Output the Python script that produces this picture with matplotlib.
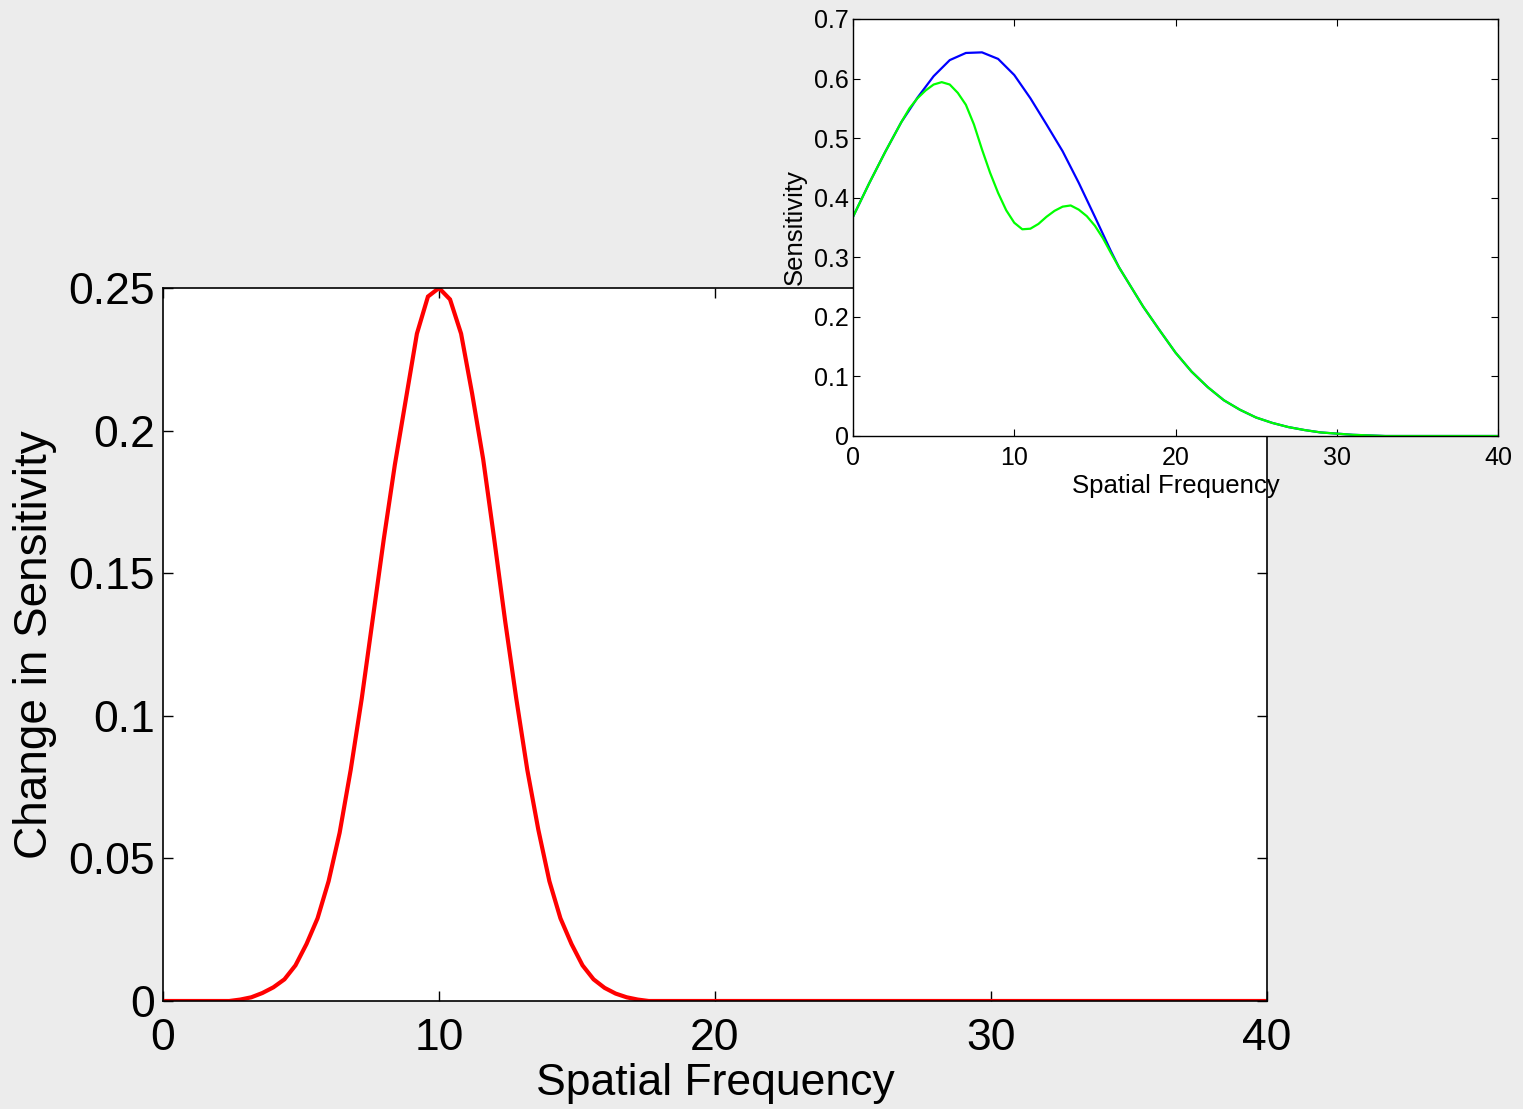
import matplotlib
matplotlib.use("Agg")
import matplotlib.pyplot as plt
from matplotlib.ticker import FormatStrFormatter

plt.rcParams['font.family'] = ['Liberation Sans', 'DejaVu Sans']

# Main chart: change in sensitivity
red_freq = [0, 2.4, 2.8, 3.2, 3.6, 4.0, 4.4, 4.8, 5.2, 5.6, 6.0, 6.4, 6.8, 7.2, 7.6,
            8.0, 8.4, 8.8, 9.2, 9.6, 10.0, 10.4, 10.8, 11.2, 11.6, 12.0, 12.4, 12.8,
            13.2, 13.6, 14.0, 14.4, 14.8, 15.2, 15.6, 16.0, 16.4, 16.8, 17.2, 17.6, 40]
red_change = [0, 0, 0.0005, 0.0013, 0.0028, 0.0048, 0.0076, 0.0125, 0.020, 0.029,
              0.042, 0.059, 0.081, 0.106, 0.134, 0.162, 0.188, 0.211, 0.234, 0.247,
              0.250, 0.246, 0.234, 0.213, 0.190, 0.162, 0.133, 0.106, 0.081, 0.060,
              0.042, 0.029, 0.020, 0.0125, 0.0076, 0.0046, 0.0026, 0.0013, 0.0005, 0, 0]

# Inset: sensitivity curves
blue_freq = [0, 1, 2, 3, 4, 5, 6, 7, 8, 9, 10, 11, 12, 13, 14, 15, 16, 16.5, 17, 18, 19,
             20, 21, 22, 23, 24, 25, 26, 27, 28, 29, 30, 31, 32, 33, 40]
blue_sens = [0.368, 0.424, 0.477, 0.527, 0.568, 0.604, 0.631, 0.643, 0.644, 0.633,
             0.606, 0.567, 0.523, 0.478, 0.425, 0.368, 0.310, 0.283, 0.261, 0.217,
             0.178, 0.140, 0.108, 0.082, 0.060, 0.044, 0.031, 0.022, 0.015, 0.010,
             0.006, 0.004, 0.002, 0.001, 0.0, 0.0]
green_freq = [0, 1, 2, 3, 3.5, 4, 4.5, 5, 5.5, 6, 6.5, 7, 7.5, 8, 8.5, 9, 9.5, 10, 10.5,
              11, 11.5, 12, 12.5, 13, 13.5, 14, 14.5, 15, 15.5, 16, 16.5, 17, 18, 19,
              20, 21, 22, 23, 24, 25, 26, 27, 28, 29, 30, 31, 32, 33, 40]
green_sens = [0.368, 0.424, 0.477, 0.527, 0.550, 0.567, 0.580, 0.590, 0.594, 0.590,
              0.576, 0.556, 0.523, 0.481, 0.442, 0.408, 0.379, 0.358, 0.347, 0.348,
              0.356, 0.368, 0.378, 0.385, 0.387, 0.380, 0.369, 0.353, 0.332, 0.307,
              0.283, 0.261, 0.217, 0.178, 0.140, 0.108, 0.082, 0.060, 0.044, 0.031,
              0.022, 0.015, 0.010, 0.006, 0.004, 0.002, 0.001, 0.0, 0.0]

main_xticks = [0, 10, 20, 30, 40]
main_yticks = [0, 0.05, 0.1, 0.15, 0.2, 0.25]
inset_xticks = [0, 10, 20, 30, 40]
inset_yticks = [0, 0.1, 0.2, 0.3, 0.4, 0.5, 0.6, 0.7]

W, H = 1523, 1109
fig = plt.figure(figsize=(W / 100, H / 100), dpi=100)
fig.patch.set_facecolor('#ececec')

def frac(l, t, r, b):
    return [l / W, 1 - b / H, (r - l) / W, (b - t) / H]

ax = fig.add_axes(frac(163, 288, 1267, 1001))
ax.set_facecolor('white')
ax.plot(red_freq, red_change, color='#ff0000', lw=3, solid_joinstyle='miter')
ax.set_xlim(0, 40)
ax.set_ylim(0, 0.25)
ax.set_xticks(main_xticks)
ax.set_yticks(main_yticks)
ax.yaxis.set_major_formatter(FormatStrFormatter('%g'))
ax.tick_params(direction='in', length=7, width=1, top=True, right=True,
               labelsize=32, colors='black')
ax.tick_params(axis='x', pad=12)
ax.tick_params(axis='y', pad=6)
ax.set_xlabel('Spatial Frequency', fontsize=32, labelpad=3)
ax.set_ylabel('Change in Sensitivity', fontsize=33, labelpad=8)
for s in ax.spines.values():
    s.set_linewidth(1.2)
    s.set_color('black')

ins = fig.add_axes(frac(853, 19, 1498, 436))
ins.set_facecolor('white')
ins.plot(blue_freq, blue_sens, color='#0000ff', lw=1.6)
ins.plot(green_freq, green_sens, color='#00ff00', lw=1.6)
ins.set_xlim(0, 40)
ins.set_ylim(0, 0.7)
ins.set_xticks(inset_xticks)
ins.set_yticks(inset_yticks)
ins.yaxis.set_major_formatter(FormatStrFormatter('%g'))
ins.tick_params(direction='in', length=5, width=0.8, top=True, right=True,
                labelsize=18, colors='black')
ins.tick_params(axis='x', pad=7)
ins.tick_params(axis='y', pad=3)
ins.set_xlabel('Spatial Frequency', fontsize=18.5, labelpad=3)
ins.set_ylabel('Sensitivity', fontsize=18.5, labelpad=5)
for s in ins.spines.values():
    s.set_linewidth(1.0)
    s.set_color('black')

fig.savefig('out.png', dpi=100, facecolor=fig.get_facecolor())
